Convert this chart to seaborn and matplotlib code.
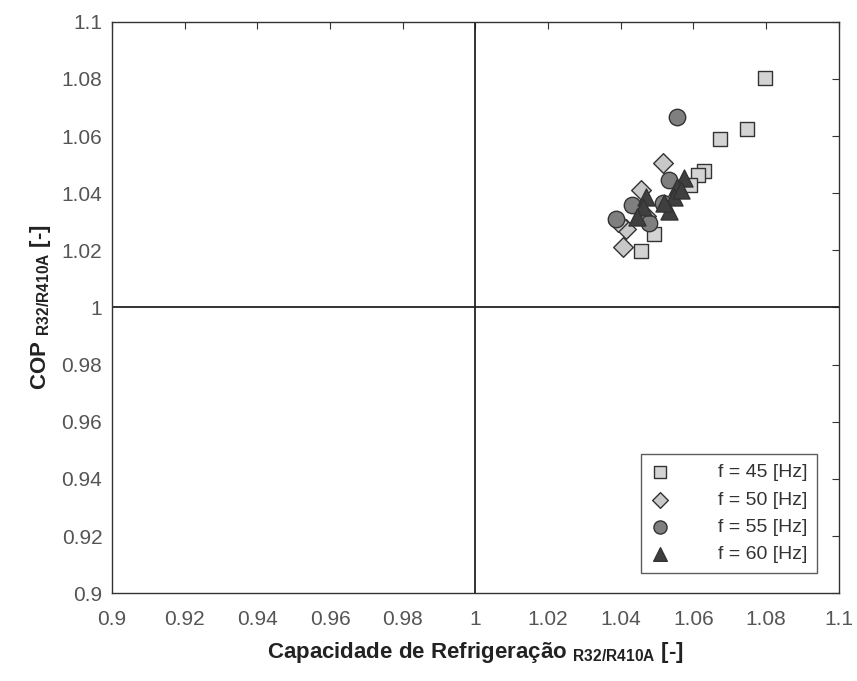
import matplotlib
matplotlib.use("Agg")
import matplotlib.pyplot as plt
import seaborn as sns
import pandas as pd

sns.set_style("white")
plt.rcParams['font.family'] = ['Liberation Sans', 'DejaVu Sans']
plt.rcParams['mathtext.fontset'] = 'custom'
plt.rcParams['mathtext.rm'] = 'Liberation Sans:bold'
plt.rcParams['mathtext.bf'] = 'Liberation Sans:bold'

labels = ["f = 45 [Hz]", "f = 50 [Hz]", "f = 55 [Hz]", "f = 60 [Hz]"]

cap_45 = [1.0797, 1.0747, 1.0674, 1.0630, 1.0612, 1.0590, 1.0492, 1.0455]
cop_45 = [1.0803, 1.0624, 1.0590, 1.0476, 1.0464, 1.0430, 1.0256, 1.0199]

cap_50 = [1.0515, 1.0455, 1.0414, 1.0405, 1.0392, 1.0470]
cop_50 = [1.0507, 1.0412, 1.0274, 1.0210, 1.0300, 1.0320]

cap_55 = [1.0554, 1.0534, 1.0388, 1.0432, 1.0478, 1.0515]
cop_55 = [1.0668, 1.0447, 1.0309, 1.0359, 1.0297, 1.0365]

cap_60 = [1.0575, 1.0556, 1.0547, 1.0534, 1.0520, 1.0470, 1.0460, 1.0446, 1.0565]
cop_60 = [1.0452, 1.0423, 1.0388, 1.0336, 1.0365, 1.0388, 1.0353, 1.0318, 1.0410]

rows = []
for lab, xs, ys in zip(labels, [cap_45, cap_50, cap_55, cap_60], [cop_45, cop_50, cop_55, cop_60]):
    for x, y in zip(xs, ys):
        rows.append({"cap": x, "cop": y, "freq": lab})
df = pd.DataFrame(rows)

fig = plt.figure(figsize=(8.57, 6.81), dpi=100)
ax = fig.add_axes([0.1307, 0.129, 0.848, 0.839])

ax.axvline(1.0, color='#222222', lw=1.3, zorder=1)
ax.axhline(1.0, color='#222222', lw=1.3, zorder=1)

palette = {labels[0]: '#d4d4d4', labels[1]: '#c8c8c8', labels[2]: '#7f7f7f', labels[3]: '#3f3f3f'}
markers = {labels[0]: 's', labels[1]: 'D', labels[2]: 'o', labels[3]: '^'}
sizes_map = {labels[0]: 100, labels[1]: 100, labels[2]: 140, labels[3]: 150}

for lab in labels:
    sub = df[df.freq == lab]
    sns.scatterplot(data=sub, x="cap", y="cop", ax=ax, color=palette[lab],
                    marker=markers[lab], s=sizes_map[lab], edgecolor='#333333',
                    linewidth=1.0, label=lab, zorder=3)

ax.set_xlim(0.9, 1.1)
ax.set_ylim(0.9, 1.1)
ticks = [0.9, 0.92, 0.94, 0.96, 0.98, 1.0, 1.02, 1.04, 1.06, 1.08, 1.1]
ticklabels = ["0.9", "0.92", "0.94", "0.96", "0.98", "1", "1.02", "1.04", "1.06", "1.08", "1.1"]
ax.set_xticks(ticks)
ax.set_xticklabels(ticklabels)
ax.set_yticks(ticks)
ax.set_yticklabels(ticklabels)
ax.tick_params(direction='in', length=5, width=0.8, top=True, right=True,
               labelsize=15, labelcolor='#555555', color='#333333')
ax.tick_params(axis='x', pad=12)
ax.tick_params(axis='y', pad=7)
for sp in ax.spines.values():
    sp.set_color('#333333')
    sp.set_linewidth(1.0)

ax.set_xlabel(r"Capacidade de Refrigeração $_{\mathregular{R32/R410A}}$ [-]",
              fontsize=16, fontweight='bold', color='#222222', labelpad=8)
ax.set_ylabel(r"COP $_{\mathregular{R32/R410A}}$ [-]",
              fontsize=16, fontweight='bold', color='#222222', labelpad=6)

leg = ax.legend(loc='lower right', bbox_to_anchor=(0.970, 0.035), fontsize=14,
                frameon=True, fancybox=False, edgecolor='#333333',
                markerscale=0.8, handlelength=1.0, handletextpad=2.45,
                borderpad=0.5, labelspacing=0.5, borderaxespad=0)
leg.get_frame().set_linewidth(1.0)
for t in leg.get_texts():
    t.set_color('#333333')

fig.savefig("out.png", dpi=100)
